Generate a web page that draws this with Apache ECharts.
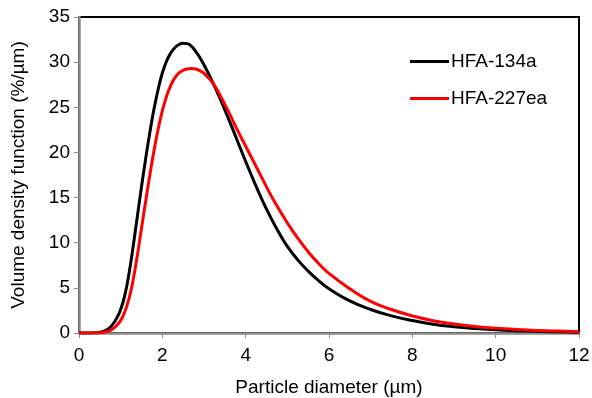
<!DOCTYPE html>
<html>
<head>
<meta charset="utf-8">
<script src="https://cdn.jsdelivr.net/npm/echarts@6/dist/echarts.min.js"></script>
<style>
  html, body { margin: 0; padding: 0; background: #fff; }
  #chart { width: 592px; height: 398px; }
</style>
</head>
<body>
<div id="chart"></div>
<script>
// Particle diameter grid (µm)
const diameters = [0, 0.2, 0.4, 0.5, 0.6, 0.7, 0.8, 0.9, 1.0, 1.1, 1.2, 1.3, 1.4, 1.5, 1.6, 1.7, 1.8, 1.9,
  2.0, 2.1, 2.2, 2.3, 2.4, 2.5, 2.6, 2.7, 2.8, 2.9, 3.0, 3.2, 3.4, 3.6, 3.8, 4.0, 4.2, 4.4, 4.6, 4.8,
  5.0, 5.25, 5.5, 5.75, 6.0, 6.5, 7.0, 7.5, 8.0, 8.5, 9.0, 9.5, 10, 10.5, 11, 11.5, 12];

// Volume density function (%/µm)
const hfa134a = [0, 0, 0.02, 0.08, 0.2, 0.45, 0.9, 1.6, 2.6, 4.2, 6.6, 9.6, 12.9, 16.2, 19.3, 22.2, 24.8, 27.0,
  28.8, 30.1, 31.0, 31.6, 31.95, 32.1, 32.05, 31.75, 31.2, 30.5, 29.7, 27.85, 25.8, 23.6, 21.3, 19.0, 16.8, 14.7, 12.8, 11.1,
  9.6, 8.1, 6.85, 5.8, 4.9, 3.55, 2.6, 1.9, 1.38, 0.98, 0.7, 0.5, 0.36, 0.26, 0.18, 0.13, 0.09];

const hfa227ea = [0, 0, 0, 0.02, 0.08, 0.2, 0.42, 0.8, 1.4, 2.35, 3.8, 5.9, 8.6, 11.6, 14.6, 17.5, 20.2, 22.6,
  24.6, 26.2, 27.4, 28.25, 28.8, 29.1, 29.25, 29.3, 29.25, 29.05, 28.75, 27.75, 26.2, 24.4, 22.5, 20.7, 18.9, 17.1, 15.3, 13.7,
  12.2, 10.5, 9.0, 7.7, 6.6, 4.9, 3.5, 2.6, 1.9, 1.35, 1.0, 0.72, 0.54, 0.4, 0.29, 0.21, 0.15];

const seriesNames = ['HFA-134a', 'HFA-227ea'];
const xTicks = { min: 0, max: 12, interval: 2 };
const yTicks = { min: 0, max: 35, interval: 5 };

const font = 'Liberation Sans, Arial, sans-serif';
const pairs = (ys) => diameters.map((x, i) => [x, ys[i]]);

const chart = echarts.init(document.getElementById('chart'), null, { renderer: 'canvas' });
chart.setOption({
  animation: false,
  backgroundColor: '#fff',
  grid: {
    left: 79, right: 13, top: 17, bottom: 65,
    outerBoundsMode: 'none',
    show: true, borderColor: '#000', borderWidth: 2, backgroundColor: 'transparent'
  },
  legend: {
    orient: 'vertical',
    left: 405, top: 47,
    itemWidth: 39, itemHeight: 3, itemGap: 18,
    icon: 'rect',
    textStyle: { fontFamily: font, fontSize: 19, color: '#000', padding: [0, 0, 0, -3] },
    data: seriesNames
  },
  xAxis: {
    type: 'value',
    min: xTicks.min, max: xTicks.max, interval: xTicks.interval,
    name: 'Particle diameter (µm)',
    nameLocation: 'middle', nameGap: 45,
    nameTextStyle: { fontFamily: font, fontSize: 19, color: '#000' },
    axisLine: { show: true, onZero: false, lineStyle: { color: '#8c8c8c', width: 2.5 } },
    axisTick: { show: true, length: 5, lineStyle: { color: '#8c8c8c', width: 1 } },
    axisLabel: { fontFamily: font, fontSize: 19, color: '#000', margin: 13 },
    splitLine: { show: false }
  },
  yAxis: {
    type: 'value',
    min: yTicks.min, max: yTicks.max, interval: yTicks.interval,
    name: 'Volume density function (%/µm)',
    nameLocation: 'middle', nameGap: 51,
    nameTextStyle: { fontFamily: font, fontSize: 19, color: '#000' },
    axisLine: { show: true, lineStyle: { color: '#8c8c8c', width: 2.5 } },
    axisTick: { show: true, length: 5, lineStyle: { color: '#8c8c8c', width: 1 } },
    axisLabel: { fontFamily: font, fontSize: 19, color: '#000', margin: 9 },
    splitLine: { show: false }
  },
  series: [
    {
      name: seriesNames[0], type: 'line', data: pairs(hfa134a),
      smooth: 0.5, showSymbol: false, symbol: 'none',
      lineStyle: { color: '#000', width: 3 }, itemStyle: { color: '#000' }
    },
    {
      name: seriesNames[1], type: 'line', data: pairs(hfa227ea),
      smooth: 0.5, showSymbol: false, symbol: 'none',
      lineStyle: { color: '#ff0000', width: 3 }, itemStyle: { color: '#ff0000' }
    }
  ]
});
</script>
</body>
</html>
